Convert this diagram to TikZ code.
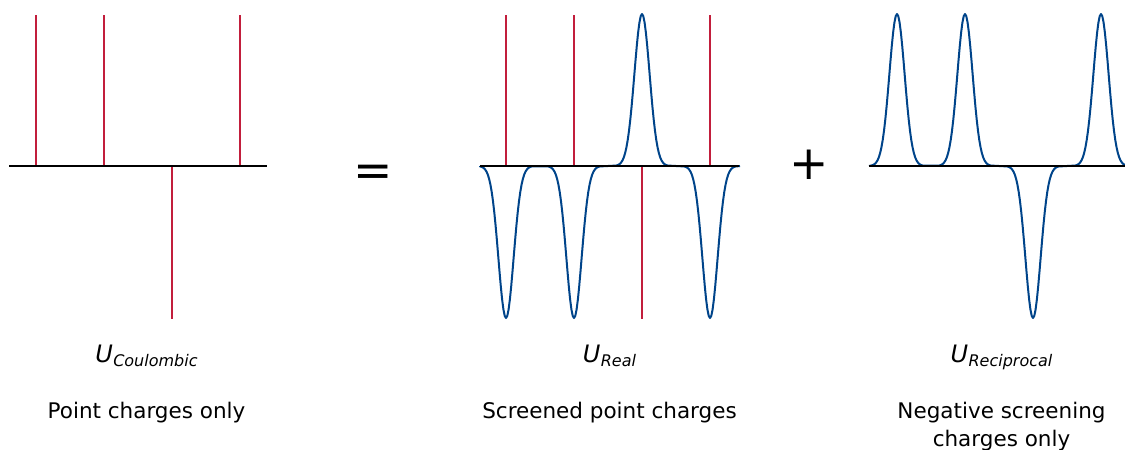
\documentclass[tikz,border=0pt]{standalone}
\usepackage{fontspec}
\setmainfont{DejaVu Sans}
\usetikzlibrary{positioning}

\definecolor{chargered}{RGB}{194,30,60}
\definecolor{screenblue}{RGB}{0,68,138}

% U with an oblique subscript
\newcommand{\energy}[1]{{\itshape U\kern0.3pt\raisebox{-4pt}{\fontsize{16}{16}\selectfont #1}}}

\begin{document}
\begin{tikzpicture}[
    x=1pt, y=-1pt,
    axis/.style={black, line width=2pt},
    charge/.style={chargered, line width=1.5pt},
    screen/.style={screenblue, line width=2pt, line join=round},
    sym/.style={font=\fontsize{47}{47}\selectfont, inner sep=0pt, anchor=base},
    ulabel/.style={font=\fontsize{24}{24}\selectfont, inner sep=0pt, anchor=base},
    desc/.style={font=\fontsize{21.5}{28}\selectfont, align=center, inner sep=0pt, anchor=base}
]
\useasboundingbox (0,0) rectangle (1125,450);

% Point charges (left)
\foreach \c in {36,104,240} \draw[charge] (\c,166) -- (\c,15);
\draw[charge] (172,166) -- (172,319);
\draw[axis] (9,166) -- (267,166);

% Screened point charges (middle)
\foreach \c in {506,574,710} \draw[charge] (\c,166) -- (\c,15);
\draw[charge] (642,166) -- (642,319);
\draw[screen] (480,166)
  \foreach \c/\a in {506/152,574/152,642/-152,710/152}{
    -- plot[domain=\c-26:\c+26, samples=41] (\x,{166+(\a)*exp(-((\x-\c)^2)/115.5)})
  } -- (740,166);
\draw[axis] (480,166) -- (739,166);

% Screening charges only (right)
\draw[screen] (869,166)
  \foreach \c/\a in {897/-152,965/-152,1033/152,1101/-152}{
    -- plot[domain=\c-26:\c+26, samples=41] (\x,{166+(\a)*exp(-((\x-\c)^2)/115.5)})
  };
\draw[axis] (869,166) -- (1125,166);

% Operators
\node[sym] (equal) at (373.5,186) {=};
\node[sym] (plus) at (809,179) {+};

% Labels
\node[ulabel] (ucoul) at (146.5,362) {\energy{Coulombic}};
\node[ulabel] (ureal) at (609.5,362) {\energy{Real}};
\node[ulabel] (urecip) at (1001.5,362) {\energy{Reciprocal}};

\node[desc] (dcoul) at (146.5,418) {Point charges only};
\node[desc] (dreal) at (609.5,418) {Screened point charges};
% base sits on the last line here
\node[desc] (drecip) at (1001.5,446) {Negative screening\\charges only};

\end{tikzpicture}
\end{document}
